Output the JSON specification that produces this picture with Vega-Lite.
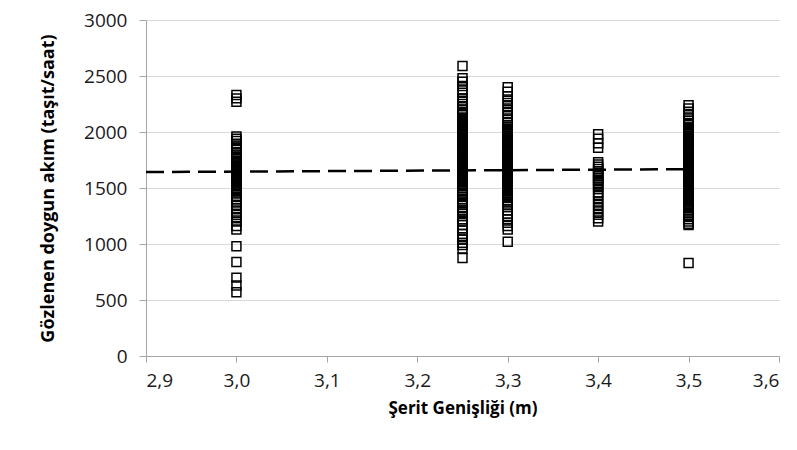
{
  "$schema": "https://vega.github.io/schema/vega-lite/v6.json",
  "width": 633,
  "height": 336,
  "autosize": {"type": "none"},
  "padding": {"left": 146, "top": 20, "right": 18, "bottom": 94},
  "background": "white",
  "config": {
    "view": {"stroke": null},
    "font": "Open Sans",
    "axis": {"labelFont": "Open Sans", "titleFont": "Open Sans", "labelColor": "#1a1a1a", "titleColor": "#000", "domainColor": "#a6a6a6", "tickColor": "#a6a6a6", "gridColor": "#d9d9d9", "labelFontSize": 19, "titleFontSize": 17.5, "titleFontWeight": "bold"}
  },
  "datasets": {
    "pts": [
      {"w":3.0,"q":2330},{"w":3.0,"q":2300},{"w":3.0,"q":2270},{"w":3.0,"q":1960},{"w":3.0,"q":1940},{"w":3.0,"q":1920},{"w":3.0,"q":1895},{"w":3.0,"q":1870},{"w":3.0,"q":1850},{"w":3.0,"q":1820},{"w":3.0,"q":1800},{"w":3.0,"q":1780},{"w":3.0,"q":1760},{"w":3.0,"q":1745},{"w":3.0,"q":1735},{"w":3.0,"q":1720},{"w":3.0,"q":1710},{"w":3.0,"q":1700},{"w":3.0,"q":1690},{"w":3.0,"q":1680},{"w":3.0,"q":1670},{"w":3.0,"q":1660},{"w":3.0,"q":1650},{"w":3.0,"q":1640},{"w":3.0,"q":1630},{"w":3.0,"q":1620},{"w":3.0,"q":1610},{"w":3.0,"q":1600},{"w":3.0,"q":1590},{"w":3.0,"q":1580},{"w":3.0,"q":1570},{"w":3.0,"q":1560},{"w":3.0,"q":1550},{"w":3.0,"q":1540},{"w":3.0,"q":1530},{"w":3.0,"q":1520},{"w":3.0,"q":1505},{"w":3.0,"q":1490},{"w":3.0,"q":1470},{"w":3.0,"q":1450},{"w":3.0,"q":1420},{"w":3.0,"q":1400},{"w":3.0,"q":1380},{"w":3.0,"q":1350},{"w":3.0,"q":1320},{"w":3.0,"q":1290},{"w":3.0,"q":1260},{"w":3.0,"q":1230},{"w":3.0,"q":1200},{"w":3.0,"q":1160},{"w":3.0,"q":1130},{"w":3.0,"q":980},{"w":3.0,"q":840},{"w":3.0,"q":700},{"w":3.0,"q":630},{"w":3.0,"q":570},
      {"w":3.25,"q":2590},{"w":3.25,"q":2480},{"w":3.25,"q":2450},{"w":3.25,"q":2410},{"w":3.25,"q":2380},{"w":3.25,"q":2350},{"w":3.25,"q":2300},{"w":3.25,"q":2280},{"w":3.25,"q":2250},{"w":3.25,"q":2230},{"w":3.25,"q":2200},{"w":3.25,"q":2180},{"w":3.25,"q":2160},{"w":3.25,"q":2130},{"w":3.25,"q":2120},{"w":3.25,"q":2110},{"w":3.25,"q":2100},{"w":3.25,"q":2090},{"w":3.25,"q":2080},{"w":3.25,"q":2070},{"w":3.25,"q":2060},{"w":3.25,"q":2050},{"w":3.25,"q":2040},{"w":3.25,"q":2030},{"w":3.25,"q":2020},{"w":3.25,"q":2010},{"w":3.25,"q":2000},{"w":3.25,"q":1990},{"w":3.25,"q":1980},{"w":3.25,"q":1970},{"w":3.25,"q":1960},{"w":3.25,"q":1950},{"w":3.25,"q":1940},{"w":3.25,"q":1930},{"w":3.25,"q":1920},{"w":3.25,"q":1910},{"w":3.25,"q":1900},{"w":3.25,"q":1890},{"w":3.25,"q":1880},{"w":3.25,"q":1870},{"w":3.25,"q":1860},{"w":3.25,"q":1850},{"w":3.25,"q":1840},{"w":3.25,"q":1830},{"w":3.25,"q":1820},{"w":3.25,"q":1810},{"w":3.25,"q":1800},{"w":3.25,"q":1790},{"w":3.25,"q":1780},{"w":3.25,"q":1770},{"w":3.25,"q":1760},{"w":3.25,"q":1750},{"w":3.25,"q":1740},{"w":3.25,"q":1730},{"w":3.25,"q":1720},{"w":3.25,"q":1710},{"w":3.25,"q":1700},{"w":3.25,"q":1690},{"w":3.25,"q":1680},{"w":3.25,"q":1670},{"w":3.25,"q":1660},{"w":3.25,"q":1650},{"w":3.25,"q":1640},{"w":3.25,"q":1630},{"w":3.25,"q":1620},{"w":3.25,"q":1610},{"w":3.25,"q":1600},{"w":3.25,"q":1590},{"w":3.25,"q":1580},{"w":3.25,"q":1570},{"w":3.25,"q":1560},{"w":3.25,"q":1550},{"w":3.25,"q":1535},{"w":3.25,"q":1520},{"w":3.25,"q":1500},{"w":3.25,"q":1485},{"w":3.25,"q":1470},{"w":3.25,"q":1450},{"w":3.25,"q":1435},{"w":3.25,"q":1420},{"w":3.25,"q":1400},{"w":3.25,"q":1380},{"w":3.25,"q":1365},{"w":3.25,"q":1350},{"w":3.25,"q":1320},{"w":3.25,"q":1300},{"w":3.25,"q":1285},{"w":3.25,"q":1270},{"w":3.25,"q":1250},{"w":3.25,"q":1220},{"w":3.25,"q":1200},{"w":3.25,"q":1170},{"w":3.25,"q":1140},{"w":3.25,"q":1120},{"w":3.25,"q":1090},{"w":3.25,"q":1060},{"w":3.25,"q":1040},{"w":3.25,"q":1010},{"w":3.25,"q":990},{"w":3.25,"q":960},{"w":3.25,"q":875},
      {"w":3.3,"q":2400},{"w":3.3,"q":2360},{"w":3.3,"q":2320},{"w":3.3,"q":2290},{"w":3.3,"q":2260},{"w":3.3,"q":2230},{"w":3.3,"q":2200},{"w":3.3,"q":2170},{"w":3.3,"q":2140},{"w":3.3,"q":2110},{"w":3.3,"q":2080},{"w":3.3,"q":2060},{"w":3.3,"q":2045},{"w":3.3,"q":2030},{"w":3.3,"q":2020},{"w":3.3,"q":2010},{"w":3.3,"q":2000},{"w":3.3,"q":1990},{"w":3.3,"q":1980},{"w":3.3,"q":1970},{"w":3.3,"q":1960},{"w":3.3,"q":1950},{"w":3.3,"q":1940},{"w":3.3,"q":1930},{"w":3.3,"q":1920},{"w":3.3,"q":1910},{"w":3.3,"q":1900},{"w":3.3,"q":1890},{"w":3.3,"q":1880},{"w":3.3,"q":1870},{"w":3.3,"q":1860},{"w":3.3,"q":1850},{"w":3.3,"q":1840},{"w":3.3,"q":1830},{"w":3.3,"q":1820},{"w":3.3,"q":1810},{"w":3.3,"q":1800},{"w":3.3,"q":1790},{"w":3.3,"q":1780},{"w":3.3,"q":1770},{"w":3.3,"q":1760},{"w":3.3,"q":1750},{"w":3.3,"q":1740},{"w":3.3,"q":1730},{"w":3.3,"q":1720},{"w":3.3,"q":1710},{"w":3.3,"q":1700},{"w":3.3,"q":1690},{"w":3.3,"q":1680},{"w":3.3,"q":1670},{"w":3.3,"q":1660},{"w":3.3,"q":1650},{"w":3.3,"q":1640},{"w":3.3,"q":1630},{"w":3.3,"q":1620},{"w":3.3,"q":1610},{"w":3.3,"q":1600},{"w":3.3,"q":1590},{"w":3.3,"q":1580},{"w":3.3,"q":1570},{"w":3.3,"q":1560},{"w":3.3,"q":1550},{"w":3.3,"q":1540},{"w":3.3,"q":1530},{"w":3.3,"q":1520},{"w":3.3,"q":1510},{"w":3.3,"q":1500},{"w":3.3,"q":1490},{"w":3.3,"q":1480},{"w":3.3,"q":1470},{"w":3.3,"q":1460},{"w":3.3,"q":1450},{"w":3.3,"q":1440},{"w":3.3,"q":1420},{"w":3.3,"q":1390},{"w":3.3,"q":1370},{"w":3.3,"q":1350},{"w":3.3,"q":1330},{"w":3.3,"q":1300},{"w":3.3,"q":1270},{"w":3.3,"q":1250},{"w":3.3,"q":1220},{"w":3.3,"q":1190},{"w":3.3,"q":1160},{"w":3.3,"q":1130},{"w":3.3,"q":1020},
      {"w":3.4,"q":1980},{"w":3.4,"q":1940},{"w":3.4,"q":1900},{"w":3.4,"q":1860},{"w":3.4,"q":1730},{"w":3.4,"q":1710},{"w":3.4,"q":1690},{"w":3.4,"q":1670},{"w":3.4,"q":1650},{"w":3.4,"q":1635},{"w":3.4,"q":1620},{"w":3.4,"q":1605},{"w":3.4,"q":1590},{"w":3.4,"q":1575},{"w":3.4,"q":1560},{"w":3.4,"q":1545},{"w":3.4,"q":1530},{"w":3.4,"q":1510},{"w":3.4,"q":1490},{"w":3.4,"q":1460},{"w":3.4,"q":1440},{"w":3.4,"q":1410},{"w":3.4,"q":1380},{"w":3.4,"q":1350},{"w":3.4,"q":1320},{"w":3.4,"q":1290},{"w":3.4,"q":1260},{"w":3.4,"q":1230},{"w":3.4,"q":1200},
      {"w":3.5,"q":2240},{"w":3.5,"q":2210},{"w":3.5,"q":2180},{"w":3.5,"q":2150},{"w":3.5,"q":2120},{"w":3.5,"q":2100},{"w":3.5,"q":2080},{"w":3.5,"q":2060},{"w":3.5,"q":2040},{"w":3.5,"q":2030},{"w":3.5,"q":2020},{"w":3.5,"q":2010},{"w":3.5,"q":2000},{"w":3.5,"q":1990},{"w":3.5,"q":1980},{"w":3.5,"q":1970},{"w":3.5,"q":1960},{"w":3.5,"q":1950},{"w":3.5,"q":1940},{"w":3.5,"q":1930},{"w":3.5,"q":1920},{"w":3.5,"q":1910},{"w":3.5,"q":1900},{"w":3.5,"q":1890},{"w":3.5,"q":1880},{"w":3.5,"q":1870},{"w":3.5,"q":1860},{"w":3.5,"q":1850},{"w":3.5,"q":1840},{"w":3.5,"q":1830},{"w":3.5,"q":1820},{"w":3.5,"q":1810},{"w":3.5,"q":1800},{"w":3.5,"q":1790},{"w":3.5,"q":1780},{"w":3.5,"q":1770},{"w":3.5,"q":1760},{"w":3.5,"q":1750},{"w":3.5,"q":1740},{"w":3.5,"q":1730},{"w":3.5,"q":1720},{"w":3.5,"q":1710},{"w":3.5,"q":1700},{"w":3.5,"q":1690},{"w":3.5,"q":1680},{"w":3.5,"q":1670},{"w":3.5,"q":1660},{"w":3.5,"q":1650},{"w":3.5,"q":1640},{"w":3.5,"q":1630},{"w":3.5,"q":1620},{"w":3.5,"q":1610},{"w":3.5,"q":1600},{"w":3.5,"q":1590},{"w":3.5,"q":1580},{"w":3.5,"q":1570},{"w":3.5,"q":1560},{"w":3.5,"q":1550},{"w":3.5,"q":1540},{"w":3.5,"q":1530},{"w":3.5,"q":1520},{"w":3.5,"q":1510},{"w":3.5,"q":1500},{"w":3.5,"q":1490},{"w":3.5,"q":1480},{"w":3.5,"q":1470},{"w":3.5,"q":1460},{"w":3.5,"q":1450},{"w":3.5,"q":1440},{"w":3.5,"q":1430},{"w":3.5,"q":1420},{"w":3.5,"q":1410},{"w":3.5,"q":1400},{"w":3.5,"q":1390},{"w":3.5,"q":1380},{"w":3.5,"q":1370},{"w":3.5,"q":1360},{"w":3.5,"q":1350},{"w":3.5,"q":1340},{"w":3.5,"q":1320},{"w":3.5,"q":1300},{"w":3.5,"q":1280},{"w":3.5,"q":1260},{"w":3.5,"q":1250},{"w":3.5,"q":1240},{"w":3.5,"q":1220},{"w":3.5,"q":1200},{"w":3.5,"q":1180},{"w":3.5,"q":1170},{"w":3.5,"q":830}
    ],
    "trend": [
      {"w": 2.9, "q": 1642},
      {"w": 3.5, "q": 1668}
    ]
  },
  "layer": [
    {
      "data": {"name": "pts"},
      "mark": {"type": "point", "shape": "square", "filled": false, "stroke": "#000", "strokeWidth": 1.5, "size": 80, "opacity": 1},
      "encoding": {
        "x": {"field": "w", "type": "quantitative", "scale": {"domain": [2.9, 3.6], "nice": false, "zero": false},
          "axis": {"values": [2.9, 3.0, 3.1, 3.2, 3.3, 3.4, 3.5, 3.6], "labelExpr": "replace(format(datum.value, '.1f'), '.', ',')", "grid": false, "tickSize": 6, "labelPadding": 9, "title": "Şerit Genişliği (m)", "titlePadding": 10, "titleFontSize": 17}},
        "y": {"field": "q", "type": "quantitative", "scale": {"domain": [0, 3000], "nice": false},
          "axis": {"values": [0, 500, 1000, 1500, 2000, 2500, 3000], "format": "d", "grid": true, "tickSize": 7, "labelPadding": 12, "title": "Gözlenen doygun akım (taşıt/saat)", "titlePadding": 26, "titleFontSize": 18}}
      }
    },
    {
      "data": {"name": "trend"},
      "mark": {"type": "line", "color": "#000", "strokeWidth": 2.5, "strokeDash": [18, 8]},
      "encoding": {
        "x": {"field": "w", "type": "quantitative"},
        "y": {"field": "q", "type": "quantitative"}
      }
    }
  ]
}
